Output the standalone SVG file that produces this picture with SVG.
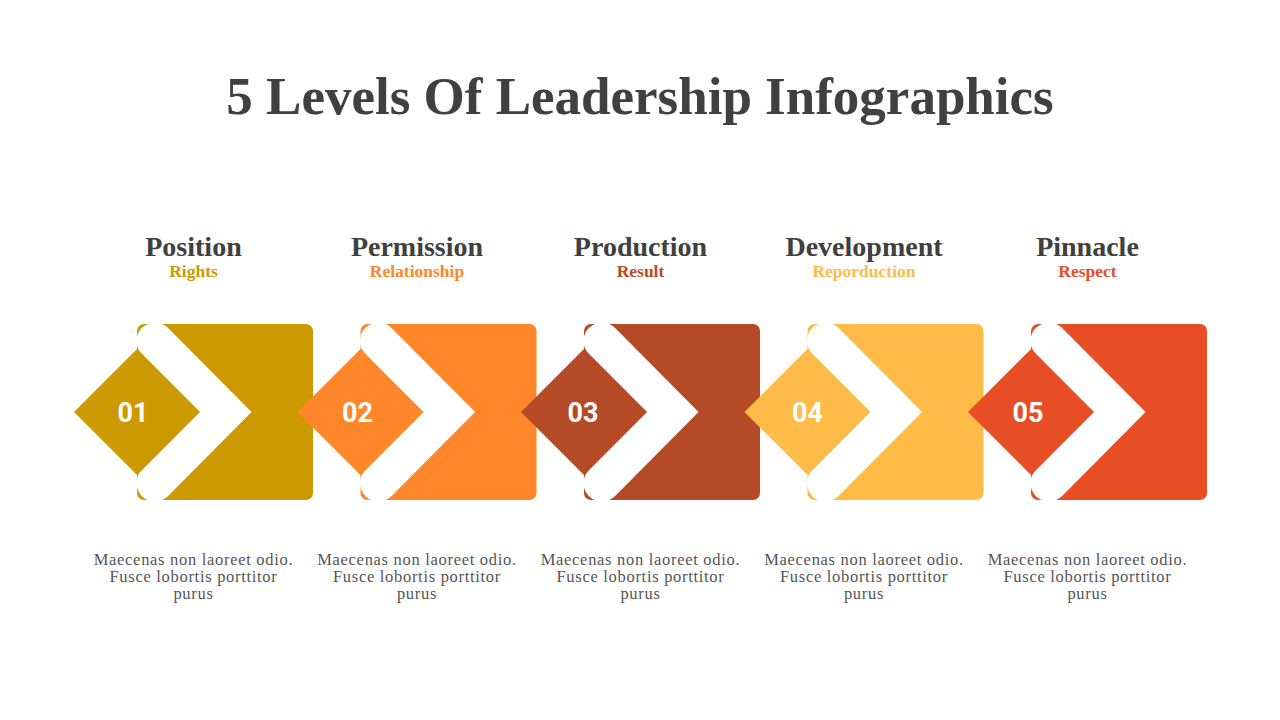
<svg xmlns="http://www.w3.org/2000/svg" width="1280" height="720" viewBox="0 0 1280 720">
<style>
.title{font-family:"Liberation Serif","DejaVu Serif",serif;font-weight:bold;font-size:53px;fill:#404040;text-anchor:middle}
.head{font-family:"Liberation Serif","DejaVu Serif",serif;font-weight:bold;font-size:28px;fill:#404040;text-anchor:middle}
.sub{font-family:"Liberation Serif","DejaVu Serif",serif;font-weight:bold;font-size:17.5px;text-anchor:middle}
.num{font-family:Roboto,"Liberation Sans",sans-serif;font-weight:bold;font-size:27px;fill:#fff;text-anchor:middle}
.body{font-family:"Liberation Serif","DejaVu Serif",serif;font-size:16.5px;letter-spacing:0.7px;fill:#555;text-anchor:middle}
.chev{fill:none;stroke:#fff;stroke-width:37;stroke-linecap:round;stroke-linejoin:miter}
</style>
<rect width="1280" height="720" fill="#fff"/>
<text class="title" x="640" y="114">5 Levels Of Leadership Infographics</text>
<defs>
<g id="shape">
<path class="chev" d="M155,341 L225.5,412 L155,483"/>
</g>
</defs>
<g id="node1">
<rect x="137" y="324" width="176" height="176" rx="7" fill="#CC9900"/>
<use href="#shape"/>
<polygon points="137,349 200,412 137,475 74,412" fill="#CC9900"/>
<text class="num" x="133" y="422">01</text>
<text class="head" x="193.5" y="256">Position</text>
<text class="sub" x="193.5" y="277" fill="#CC9900">Rights</text>
<text class="body" x="193.5" y="565">Maecenas non laoreet odio.</text>
<text class="body" x="193.5" y="582">Fusce lobortis porttitor</text>
<text class="body" x="193.5" y="599">purus</text>
</g>
<g id="node2" transform="translate(223.5,0)">
<rect x="137" y="324" width="176" height="176" rx="7" fill="#FF8629"/>
<use href="#shape"/>
<polygon points="137,349 200,412 137,475 74,412" fill="#FF8629"/>
<text class="num" x="134" y="422">02</text>
<text class="head" x="193.5" y="256">Permission</text>
<text class="sub" x="193.5" y="277" fill="#FF8629">Relationship</text>
<text class="body" x="193.5" y="565">Maecenas non laoreet odio.</text>
<text class="body" x="193.5" y="582">Fusce lobortis porttitor</text>
<text class="body" x="193.5" y="599">purus</text>
</g>
<g id="node3" transform="translate(447,0)">
<rect x="137" y="324" width="176" height="176" rx="7" fill="#B54A27"/>
<use href="#shape"/>
<polygon points="137,349 200,412 137,475 74,412" fill="#B54A27"/>
<text class="num" x="136" y="422">03</text>
<text class="head" x="193.5" y="256">Production</text>
<text class="sub" x="193.5" y="277" fill="#B54A27">Result</text>
<text class="body" x="193.5" y="565">Maecenas non laoreet odio.</text>
<text class="body" x="193.5" y="582">Fusce lobortis porttitor</text>
<text class="body" x="193.5" y="599">purus</text>
</g>
<g id="node4" transform="translate(670.5,0)">
<rect x="137" y="324" width="176" height="176" rx="7" fill="#FFBB48"/>
<use href="#shape"/>
<polygon points="137,349 200,412 137,475 74,412" fill="#FFBB48"/>
<text class="num" x="137" y="422">04</text>
<text class="head" x="193.5" y="256">Development</text>
<text class="sub" x="193.5" y="277" fill="#FFBB48">Reporduction</text>
<text class="body" x="193.5" y="565">Maecenas non laoreet odio.</text>
<text class="body" x="193.5" y="582">Fusce lobortis porttitor</text>
<text class="body" x="193.5" y="599">purus</text>
</g>
<g id="node5" transform="translate(894,0)">
<rect x="137" y="324" width="176" height="176" rx="7" fill="#E84E25"/>
<use href="#shape"/>
<polygon points="137,349 200,412 137,475 74,412" fill="#E84E25"/>
<text class="num" x="134" y="422">05</text>
<text class="head" x="193.5" y="256">Pinnacle</text>
<text class="sub" x="193.5" y="277" fill="#E84E25">Respect</text>
<text class="body" x="193.5" y="565">Maecenas non laoreet odio.</text>
<text class="body" x="193.5" y="582">Fusce lobortis porttitor</text>
<text class="body" x="193.5" y="599">purus</text>
</g>
<g id="connectors"/>
</svg>
